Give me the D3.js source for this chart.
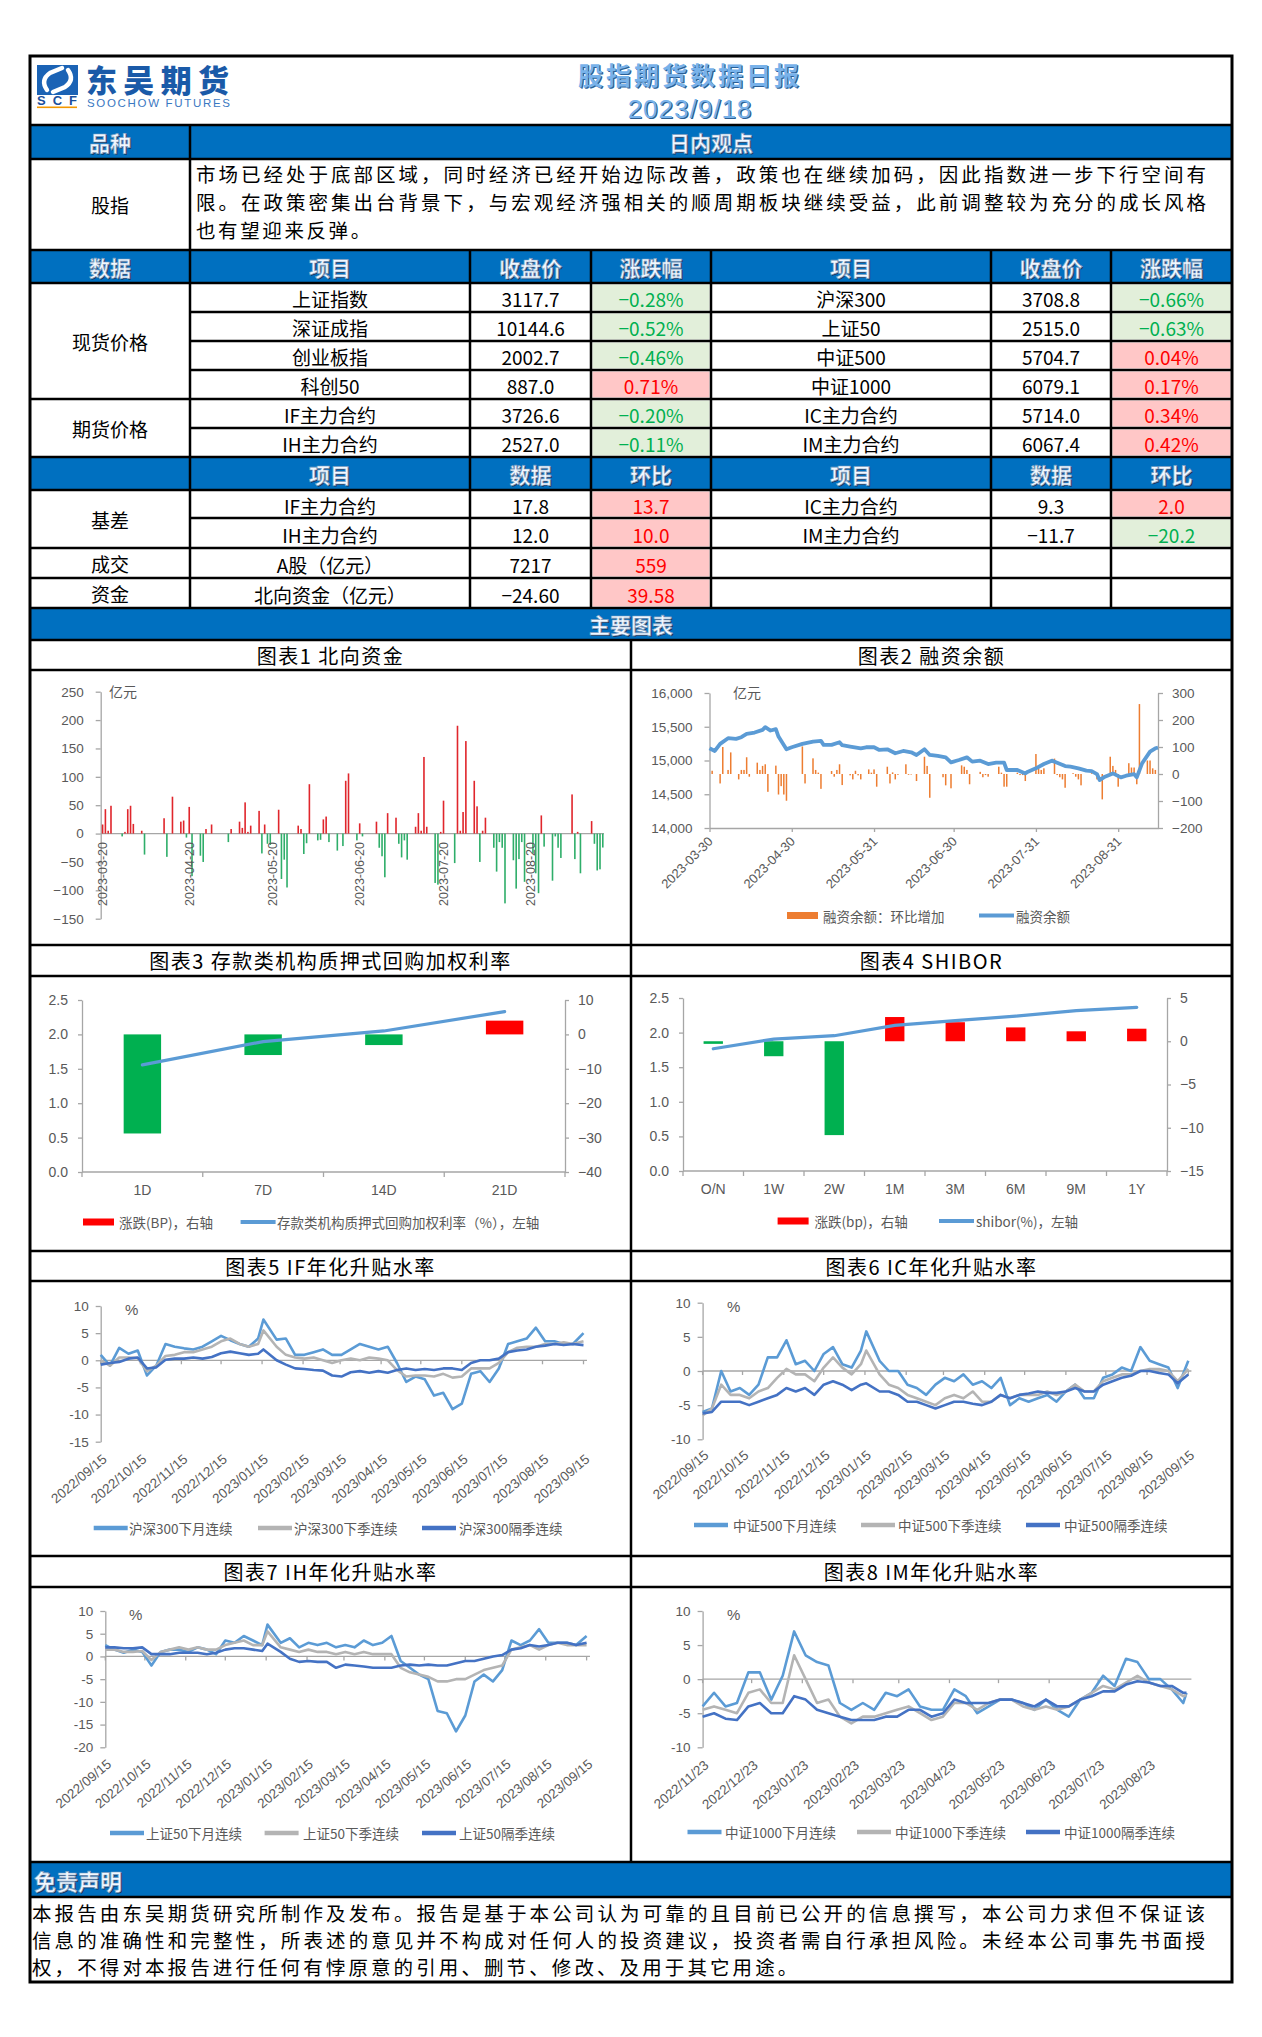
<!DOCTYPE html>
<html lang="zh-CN">
<head>
<meta charset="UTF-8">
<title>股指期货数据日报 2023/9/18</title>
<script src="https://d3js.org/d3.v7.min.js"></script>
<style>
  body { margin: 0; background: #fff; }
  svg { display: block; }
</style>
</head>
<body>
<svg id="page" width="1262" height="2037"></svg>
<script>
// ---------------- report text ----------------
const reportTitle = "股指期货数据日报";
const reportDate = "2023/9/18";
const viewLines = [
  "市场已经处于底部区域，同时经济已经开始边际改善，政策也在继续加码，因此指数进一步下行空间有",
  "限。在政策密集出台背景下，与宏观经济强相关的顺周期板块继续受益，此前调整较为充分的成长风格",
  "也有望迎来反弹。"
];
const disclaimerLines = [
  "本报告由东吴期货研究所制作及发布。报告是基于本公司认为可靠的且目前已公开的信息撰写，本公司力求但不保证该",
  "信息的准确性和完整性，所表述的意见并不构成对任何人的投资建议，投资者需自行承担风险。未经本公司事先书面授",
  "权，不得对本报告进行任何有悖原意的引用、删节、修改、及用于其它用途。"
];

// ---------------- table data ----------------
const head1 = ["数据", "项目", "收盘价", "涨跌幅", "项目", "收盘价", "涨跌幅"];
const head2 = ["", "项目", "数据", "环比", "项目", "数据", "环比"];
const spotNamesL = ["上证指数", "深证成指", "创业板指", "科创50"];
const spotCloseL = [3117.7, 10144.6, 2002.7, 887.0];
const spotChgL = [-0.28, -0.52, -0.46, 0.71];
const spotNamesR = ["沪深300", "上证50", "中证500", "中证1000"];
const spotCloseR = [3708.8, 2515.0, 5704.7, 6079.1];
const spotChgR = [-0.66, -0.63, 0.04, 0.17];
const futNamesL = ["IF主力合约", "IH主力合约"];
const futCloseL = [3726.6, 2527.0];
const futChgL = [-0.20, -0.11];
const futNamesR = ["IC主力合约", "IM主力合约"];
const futCloseR = [5714.0, 6067.4];
const futChgR = [0.34, 0.42];
const basisNamesL = ["IF主力合约", "IH主力合约"];
const basisValL = [17.8, 12.0];
const basisChgL = [13.7, 10.0];
const basisNamesR = ["IC主力合约", "IM主力合约"];
const basisValR = [9.3, -11.7];
const basisChgR = [2.0, -20.2];
const turnoverRow = ["A股（亿元）", 7217, 559];
const northRow = ["北向资金（亿元）", -24.60, 39.58];

// ---------------- chart 1: northbound flow (亿元) ----------------
const northFlow = [
  ["2023-03-20",16],["2023-03-21",43],["2023-03-22",5],["2023-03-23",49],["2023-03-27",-5],["2023-03-28",3],
  ["2023-03-29",43],["2023-03-30",49],["2023-03-31",17],["2023-04-03",5],["2023-04-04",-37],["2023-04-11",27],
  ["2023-04-12",-41],["2023-04-14",65],["2023-04-17",21],["2023-04-18",23],["2023-04-19",-7],["2023-04-20",47],
  ["2023-04-21",-75],["2023-04-24",-39],["2023-04-25",-50],["2023-04-26",8],["2023-04-28",16],["2023-05-04",-15],
  ["2023-05-05",8],["2023-05-08",21],["2023-05-09",10],["2023-05-10",55],["2023-05-11",3],["2023-05-12",14],
  ["2023-05-15",40],["2023-05-16",-35],["2023-05-17",16],["2023-05-18",-18],["2023-05-19",-20],["2023-05-22",42],
  ["2023-05-23",-80],["2023-05-24",-46],["2023-05-25",-95],["2023-05-29",14],["2023-05-30",8],["2023-05-31",-36],
  ["2023-06-01",-17],["2023-06-02",87],["2023-06-05",-12],["2023-06-06",-11],["2023-06-07",25],["2023-06-08",30],
  ["2023-06-09",-15],["2023-06-12",-30],["2023-06-14",-22],["2023-06-15",93],["2023-06-16",106],["2023-06-19",-12],
  ["2023-06-20",18],["2023-06-21",-5],["2023-06-26",21],["2023-06-27",-25],["2023-06-28",-40],["2023-06-29",-77],
  ["2023-06-30",36],["2023-07-03",28],["2023-07-04",-18],["2023-07-05",-42],["2023-07-06",-12],["2023-07-07",-46],
  ["2023-07-10",12],["2023-07-11",36],["2023-07-12",5],["2023-07-13",135],["2023-07-14",12],["2023-07-17",-87],
  ["2023-07-18",-90],["2023-07-19",3],["2023-07-20",58],["2023-07-24",-52],["2023-07-25",190],["2023-07-26",5],
  ["2023-07-27",38],["2023-07-28",163],["2023-07-31",93],["2023-08-01",48],["2023-08-02",-50],["2023-08-03",5],
  ["2023-08-04",28],["2023-08-07",-25],["2023-08-08",-67],["2023-08-09",-15],["2023-08-10",-25],["2023-08-11",-123],
  ["2023-08-14",-47],["2023-08-15",-97],["2023-08-16",-45],["2023-08-17",-15],["2023-08-18",-85],["2023-08-21",-35],
  ["2023-08-22",-70],["2023-08-23",-105],["2023-08-24",32],["2023-08-25",-23],["2023-08-28",-83],["2023-08-29",-5],
  ["2023-08-30",-25],["2023-08-31",-43],["2023-09-04",69],["2023-09-05",-45],["2023-09-06",3],["2023-09-07",-70],
  ["2023-09-11",22],["2023-09-12",-18],["2023-09-13",-65],["2023-09-14",-63],["2023-09-15",-24.6]
];
const northTicks = ["2023-03-20", "2023-04-20", "2023-05-20", "2023-06-20", "2023-07-20", "2023-08-20"];

// ---------------- chart 2: margin balance ----------------
const marginBalance = [
  ["2023-03-30",15181],["2023-04-01",15141],["2023-04-03",15246],["2023-04-06",15330],["2023-04-09",15320],
  ["2023-04-11",15345],["2023-04-13",15395],["2023-04-16",15414],["2023-04-19",15454],["2023-04-20",15494],
  ["2023-04-22",15444],["2023-04-24",15464],["2023-04-25",15355],["2023-04-28",15166],["2023-04-30",15196],
  ["2023-05-04",15246],["2023-05-08",15280],["2023-05-11",15290],["2023-05-12",15231],["2023-05-15",15231],
  ["2023-05-18",15270],["2023-05-19",15226],["2023-05-22",15206],["2023-05-26",15181],["2023-05-28",15196],
  ["2023-05-31",15196],["2023-06-02",15156],["2023-06-05",15166],["2023-06-08",15107],["2023-06-11",15141],
  ["2023-06-14",15122],["2023-06-16",15082],["2023-06-19",15166],["2023-06-21",15082],["2023-06-24",15067],
  ["2023-06-27",15047],["2023-06-29",14973],["2023-07-02",15007],["2023-07-05",15047],["2023-07-07",14983],
  ["2023-07-10",14998],["2023-07-13",14948],["2023-07-16",14968],["2023-07-19",14968],["2023-07-20",14859],
  ["2023-07-24",14859],["2023-07-27",14809],["2023-07-28",14834],["2023-07-31",14884],["2023-08-03",14948],
  ["2023-08-06",14998],["2023-08-08",14968],["2023-08-11",14918],["2023-08-13",14908],["2023-08-16",14884],
  ["2023-08-19",14849],["2023-08-21",14844],["2023-08-23",14799],["2023-08-24",14710],["2023-08-26",14760],
  ["2023-08-29",14809],["2023-09-01",14750],["2023-09-03",14775],["2023-09-06",14799],["2023-09-07",14750],
  ["2023-09-09",14958],["2023-09-12",15131],["2023-09-14",15181],["2023-09-15",15191]
];
const marginChange = [
  ["2023-03-31",12],["2023-04-03",-35],["2023-04-04",100],["2023-04-06",15],["2023-04-07",80],["2023-04-10",-20],
  ["2023-04-11",15],["2023-04-12",15],["2023-04-13",62],["2023-04-14",-10],["2023-04-17",42],["2023-04-18",15],
  ["2023-04-19",30],["2023-04-20",36],["2023-04-21",-66],["2023-04-24",31],["2023-04-25",-76],["2023-04-26",-45],
  ["2023-04-27",-76],["2023-04-28",-99],["2023-05-04",102],["2023-05-05",-35],["2023-05-08",58],["2023-05-09",15],
  ["2023-05-10",5],["2023-05-11",-55],["2023-05-15",11],["2023-05-16",-10],["2023-05-17",15],["2023-05-18",36],
  ["2023-05-19",-41],["2023-05-22",-5],["2023-05-23",-20],["2023-05-24",12],["2023-05-25",-5],["2023-05-26",-20],
  ["2023-05-29",17],["2023-05-30",5],["2023-05-31",17],["2023-06-01",-47],["2023-06-05",27],["2023-06-06",-35],
  ["2023-06-07",6],["2023-06-08",-20],["2023-06-09",-3],["2023-06-12",36],["2023-06-13",-3],["2023-06-14",-2],
  ["2023-06-16",-26],["2023-06-19",64],["2023-06-20",30],["2023-06-21",-88],["2023-06-26",-12],["2023-06-27",-42],
  ["2023-06-29",-53],["2023-07-03",32],["2023-07-04",27],["2023-07-05",15],["2023-07-06",-38],["2023-07-10",8],
  ["2023-07-11",-12],["2023-07-12",-4],["2023-07-13",-10],["2023-07-17",27],["2023-07-18",5],["2023-07-19",-47],
  ["2023-07-20",-47],["2023-07-24",5],["2023-07-25",-4],["2023-07-26",-4],["2023-07-27",-26],["2023-07-31",74],
  ["2023-08-01",21],["2023-08-02",15],["2023-08-03",21],["2023-08-07",57],["2023-08-08",-4],["2023-08-09",-12],
  ["2023-08-10",-20],["2023-08-11",-51],["2023-08-14",3],["2023-08-15",-10],["2023-08-16",-20],["2023-08-17",-42],
  ["2023-08-21",3],["2023-08-23",-20],["2023-08-25",-94],["2023-08-28",64],["2023-08-29",30],["2023-08-30",15],
  ["2023-08-31",-47],["2023-09-04",40],["2023-09-05",24],["2023-09-06",24],["2023-09-07",-38],["2023-09-08",259],
  ["2023-09-11",50],["2023-09-12",50],["2023-09-13",21],["2023-09-14",15]
];
const marginTicks = ["2023-03-30", "2023-04-30", "2023-05-31", "2023-06-30", "2023-07-31", "2023-08-31"];

// ---------------- chart 3: deposit-institution repo ----------------
const repoTerms = ["1D", "7D", "14D", "21D"];
const repoRate = [1.557, 1.896, 2.05, 2.331];
const repoChg = [-28.8, -6.0, -3.1, 4.0];

// ---------------- chart 4: SHIBOR ----------------
const shiborTerms = ["O/N", "1W", "2W", "1M", "3M", "6M", "9M", "1Y"];
const shiborRate = [1.766, 1.906, 1.955, 2.104, 2.172, 2.239, 2.317, 2.365];
const shiborChg = [-0.3, -1.73, -10.85, 2.8, 2.2, 1.6, 1.15, 1.45];

// ---------------- charts 5-7: weekly readings 2022/09/15 - 2023/09/15 ----------------
const weekDates = [
  "2022-09-15","2022-09-22","2022-09-29","2022-10-06","2022-10-13","2022-10-20","2022-10-27","2022-11-03",
  "2022-11-10","2022-11-17","2022-11-24","2022-12-01","2022-12-08","2022-12-15","2022-12-22","2022-12-29",
  "2023-01-05","2023-01-12","2023-01-16","2023-01-26","2023-02-02","2023-02-09","2023-02-16","2023-02-23",
  "2023-03-02","2023-03-09","2023-03-16","2023-03-23","2023-03-30","2023-04-06","2023-04-13","2023-04-20",
  "2023-04-27","2023-05-04","2023-05-11","2023-05-18","2023-05-25","2023-06-01","2023-06-08","2023-06-15",
  "2023-06-22","2023-06-29","2023-07-06","2023-07-13","2023-07-20","2023-07-27","2023-08-03","2023-08-10",
  "2023-08-17","2023-08-24","2023-08-31","2023-09-07","2023-09-15"
];
const ifNext = [1.0,-1.0,2.3,1.2,1.8,-2.8,-1.0,3.0,2.5,2.2,2.0,2.5,3.5,4.5,3.7,3.0,2.5,4.0,7.5,3.8,4.0,1.0,1.0,1.5,2.0,1.0,1.0,2.0,3.0,2.5,2.0,2.5,-0.5,-4.0,-3.0,-3.5,-6.5,-6.0,-9.0,-8.0,-2.5,-2.0,-4.0,-1.5,3.0,3.5,4.0,6.0,3.5,3.5,3.0,3.0,5.0];
const ifQuarter = [0,-1.0,0.5,0.5,0.4,-2.0,-1.0,0.8,1.0,1.5,1.5,2.0,2.5,3.5,4.0,3.0,2.5,3.0,5.5,2.5,1.0,0.5,0.3,0.5,0,-0.5,0,0.3,0,0.5,0.3,0,-1.8,-3.0,-2.8,-2.8,-3.0,-2.5,-3.2,-3.0,-1.5,-1.5,-1.5,-0.5,1.5,2.3,2.5,2.5,3.0,3.0,3.3,3.0,3.5];
const ifFar = [-0.8,-0.5,-0.3,0.3,0.5,-1.5,-1.3,0.1,0.3,0.3,0.5,0.3,0.6,1.3,1.6,1.3,1.0,1.2,2.0,0,-0.8,-1.5,-1.6,-1.8,-1.9,-2.8,-3.0,-2.2,-2.0,-2.3,-2.0,-2.3,-1.8,-1.5,-1.8,-1.6,-1.8,-1.5,-1.5,-1.8,-0.5,0,0,0.3,1.5,1.8,2.0,2.5,2.7,3.0,2.8,3.0,2.8];
const icNext = [-6.0,-5.5,0,-3.0,-2.5,-3.5,-2.0,2.0,2.0,4.5,1.0,1.5,0,2.5,3.5,1.0,0.5,3.0,5.8,1.5,0,0,-2.0,-2.5,-3.5,-2.0,-1.0,-1.5,-0.5,-2.0,-1.5,-2.5,-1.0,-5.0,-4.0,-4.5,-4.0,-3.5,-4.5,-3.0,-2.0,-4.0,-4.0,-1.0,-0.5,0.5,0,3.5,1.5,1.0,0.5,-2.5,1.5];
const icQuarter = [-6.5,-5.5,-2.0,-3.5,-3.5,-4.0,-3.0,-2.5,-1.0,0.3,-0.5,-0.5,-1.5,0.5,2.0,0.5,-0.5,1.0,3.0,-0.5,-2.0,-2.5,-3.5,-4.0,-4.5,-5.0,-4.0,-3.5,-4.0,-3.0,-4.5,-4.5,-3.5,-4.0,-3.5,-3.5,-3.5,-3.0,-3.5,-3.0,-2.0,-3.0,-3.0,-1.5,-1.0,-0.5,-0.5,0,0.3,0.3,0,-1.5,0.3];
const icFar = [-6.2,-6.0,-4.5,-4.5,-4.5,-5.0,-4.5,-4.0,-3.5,-2.5,-3.0,-2.5,-3.5,-2.0,-1.5,-2.0,-2.8,-2.0,-1.8,-3.0,-3.0,-3.5,-4.5,-4.5,-5.0,-5.5,-5.0,-4.5,-4.5,-4.8,-5.0,-4.5,-3.5,-4.0,-3.5,-3.3,-3.0,-3.2,-3.2,-3.0,-2.5,-3.0,-3.0,-2.0,-1.5,-1.0,-0.7,0,0,-0.3,-0.5,-1.8,-0.5];
const ihNext = [2.5,1.5,0.8,1.5,1.0,-2.0,1.0,1.5,1.5,1.0,2.0,1.5,0.5,3.5,3.0,4.5,3.5,2.5,7.0,3.0,4.0,2.0,3.0,2.5,3.0,2.0,2.5,2.0,3.5,2.5,3.0,4.5,-1.0,-2.5,-4.0,-5.0,-12.0,-12.5,-16.5,-13.0,-5.5,-4.0,-5.5,-3.0,3.5,2.5,3.5,6.0,3.0,3.0,3.0,2.5,4.5];
const ihQuarter = [1.5,1.5,1.0,1.0,1.2,-0.8,1.0,1.5,2.0,1.5,2.0,1.5,1.5,2.5,3.0,3.5,2.5,2.5,5.5,2.0,1.5,1.0,1.5,1.0,1.0,0.5,1.0,0.5,1.0,0.5,0.5,0.5,-2.5,-3.5,-4.0,-4.5,-5.5,-5.5,-5.0,-5.0,-4.0,-3.0,-2.5,-2.0,1.5,2.0,2.5,1.5,2.5,3.0,2.5,2.5,2.5];
const ihFar = [2.0,2.0,1.8,1.8,2.0,0.5,0.5,0.5,0.8,0.8,0.8,0.5,0.8,1.5,1.8,1.8,1.5,1.2,2.8,1.0,-0.5,-1.2,-1.0,-1.2,-1.2,-2.5,-1.8,-2.0,-2.2,-2.5,-2.5,-2.5,-2.0,-1.8,-2.0,-1.8,-2.0,-2.0,-1.5,-1.0,-1.0,-0.5,0,0.3,1.5,1.8,2.5,2.2,2.5,3.0,3.0,2.5,3.0];
const monthTicks15 = ["2022-09-15","2022-10-15","2022-11-15","2022-12-15","2023-01-15","2023-02-15","2023-03-15",
  "2023-04-15","2023-05-15","2023-06-15","2023-07-15","2023-08-15","2023-09-15"];

// ---------------- chart 8: IM weekly readings ----------------
const imDates = [
  "2022-11-23","2022-11-30","2022-12-07","2022-12-14","2022-12-21","2022-12-28","2023-01-04","2023-01-11",
  "2023-01-18","2023-01-25","2023-02-01","2023-02-08","2023-02-15","2023-02-22","2023-03-01","2023-03-08",
  "2023-03-15","2023-03-22","2023-03-29","2023-04-05","2023-04-12","2023-04-19","2023-04-26","2023-05-03",
  "2023-05-10","2023-05-17","2023-05-24","2023-05-31","2023-06-07","2023-06-14","2023-06-21","2023-06-28",
  "2023-07-05","2023-07-12","2023-07-19","2023-07-26","2023-08-02","2023-08-09","2023-08-16","2023-08-23",
  "2023-08-30","2023-09-06","2023-09-13","2023-09-15"
];
const imNext = [-4,-2,-4,-3.5,1.0,1.0,-3.0,0.5,7.0,3.5,2.5,2.0,-3.5,-4.5,-3.5,-4.5,-2.0,-2.5,-1.5,-4.0,-4.5,-4.5,-1.5,-2.5,-5.0,-4.0,-3.0,-3.0,-3.5,-4.5,-3.0,-4.5,-5.5,-3.0,-2.0,0.5,-1.0,3.0,2.5,0,0,-1.5,-3.5,-2.0];
const imQuarter = [-4.5,-4,-4.5,-5,-2,-1.5,-3.5,-3.5,3.5,0,-3.5,-3,-5.5,-6.5,-5.5,-5.5,-5,-4.5,-4,-5,-6,-5.5,-3.5,-3.5,-4.5,-3.5,-3,-3,-4,-4.5,-4,-4.5,-4,-3,-2,-1,-1.5,-0.5,0.5,-0.5,-1,-1.5,-2.5,-2.3];
const imFar = [-5.5,-5,-5.8,-6,-4,-3.5,-5,-5,-2.5,-3,-4.5,-5,-5.5,-6,-6,-6,-5.5,-5.5,-4.5,-4.5,-5.5,-5,-3,-3.5,-3.5,-3.5,-3,-3,-3.5,-4,-3,-4,-4,-3,-2.5,-1.8,-1.8,-0.8,-0.3,-0.5,-1,-1,-2,-2];
const monthTicks23 = ["2022-11-23","2022-12-23","2023-01-23","2023-02-23","2023-03-23","2023-04-23","2023-05-23",
  "2023-06-23","2023-07-23","2023-08-23"];

// ---------------- styling ----------------
const CJK = '"Noto Sans CJK SC", "Noto Sans", sans-serif';
const LAT = '"Liberation Sans", Arial, sans-serif';
const GRAY = "#595959", AXIS = "#a6a6a6", BAND = "#0070c0";
const UP_BG = "#ffc7c7", UP_FG = "#ff0000", DN_BG = "#e2efda", DN_FG = "#00b050";
const C_NEXT = "#5b9bd5", C_QTR = "#b4b4b4", C_FAR = "#4472c4";

const svg = d3.select("#page");
const parse = d3.timeParse("%Y-%m-%d");

const L = 30, R = 1232, MID = 631;
const colX = [30, 190, 470, 591, 711, 991, 1111, 1232];
const colC = colX.slice(0, -1).map((x, i) => (x + colX[i + 1]) / 2);

function txt(g, x, y, str, o = {}) {
  return g.append("text").attr("x", x).attr("y", y)
    .attr("font-family", o.family || CJK).attr("font-size", o.size || 14)
    .attr("font-weight", o.weight || 400)
    .attr("fill", o.fill || GRAY).attr("text-anchor", o.anchor || "start")
    .attr("dominant-baseline", "central").text(str);
}

// white text with a dark bevel, as in the blue header bands
function emboss(x, y, str, size, anchor = "middle") {
  const g = svg.append("g").attr("font-family", CJK).attr("font-size", size)
    .attr("font-weight", 700).attr("text-anchor", anchor).attr("dominant-baseline", "central");
  g.append("text").attr("x", x + 1.3).attr("y", y + 1.3).attr("fill", "#17365d").text(str);
  g.append("text").attr("x", x).attr("y", y).attr("fill", "#f2f8ff")
    .attr("stroke", "#7b9cc0").attr("stroke-width", 0.7).text(str);
}

function styleAxis(sel, size, family) {
  sel.attr("font-size", null).attr("font-family", null);
  sel.select(".domain").attr("stroke", AXIS).attr("stroke-width", 1.3);
  sel.selectAll(".tick line").attr("stroke", AXIS).attr("stroke-width", 1.3);
  sel.selectAll(".tick text").attr("fill", GRAY).attr("font-size", size).attr("font-family", family || LAT);
}

function hline(g, x1, x2, y, color, w) {
  g.append("line").attr("x1", x1).attr("x2", x2).attr("y1", y).attr("y2", y)
    .attr("stroke", color).attr("stroke-width", w);
}

// ================= header =================
const head = svg.append("g");
// logo
head.append("rect").attr("x", 37).attr("y", 65).attr("width", 41).attr("height", 30).attr("fill", "#1b63b5");
head.append("path").attr("d", "M47 90 Q40 80 50 73 L62 68").attr("fill", "none")
  .attr("stroke", "#fff").attr("stroke-width", 4.5).attr("stroke-linecap", "round");
head.append("path").attr("d", "M68 70 Q75 80 65 87 L53 92").attr("fill", "none")
  .attr("stroke", "#fff").attr("stroke-width", 4.5).attr("stroke-linecap", "round");
head.append("text").attr("x", 37).attr("y", 104.5).attr("font-family", LAT).attr("font-size", 13)
  .attr("font-weight", 900).attr("fill", "#1a4f9c").attr("textLength", 40).text("SCF");
head.append("rect").attr("x", 37).attr("y", 106.5).attr("width", 40).attr("height", 1.6).attr("fill", "#f39800");
head.append("text").attr("x", 86).attr("y", 92).attr("font-family", CJK).attr("font-size", 31)
  .attr("font-weight", 900).attr("fill", "#1a5aa8").attr("textLength", 143).text("东吴期货");
head.append("text").attr("x", 87).attr("y", 107).attr("font-family", LAT).attr("font-size", 11.5)
  .attr("fill", "#3a78c2").attr("textLength", 143).text("SOOCHOW FUTURES");
// title
[[reportTitle, 73.5, 25, 3], [reportDate, 108.5, 26, 1]].forEach(([s, y, size, ls]) => {
  const fam = s === reportDate ? LAT : CJK;
  const w = s === reportDate ? 400 : 700;
  head.append("text").attr("x", 691.2).attr("y", y + 1.2).attr("text-anchor", "middle")
    .attr("dominant-baseline", "central").attr("font-family", fam).attr("font-size", size)
    .attr("font-weight", w).attr("letter-spacing", ls).attr("fill", "#2b5f95").text(s);
  head.append("text").attr("x", 690).attr("y", y).attr("text-anchor", "middle")
    .attr("dominant-baseline", "central").attr("font-family", fam).attr("font-size", size)
    .attr("font-weight", w).attr("letter-spacing", ls).attr("fill", "#78b2ea").text(s);
});

// ================= bands & cell fills =================
const fills = svg.append("g");
[[125, 159], [250, 283], [457, 490], [608, 640], [1863, 1897]].forEach(([a, b]) => {
  fills.append("rect").attr("x", L).attr("y", a).attr("width", R - L).attr("height", b - a).attr("fill", BAND);
});

function fmtPct(v) { return (v < 0 ? "−" : "") + Math.abs(v).toFixed(2) + "%"; }
function fmtNum(d) { return v => (v < 0 ? "−" : "") + Math.abs(v).toFixed(d); }

const cellText = svg.append("g");
function valueCell(col, y0, y1, str, sign) {
  if (sign !== 0) {
    fills.append("rect").attr("x", colX[col] + 1.5).attr("y", y0 + 1.5)
      .attr("width", colX[col + 1] - colX[col] - 3).attr("height", y1 - y0 - 3)
      .attr("fill", sign > 0 ? UP_BG : DN_BG);
  }
  txt(cellText, colC[col], (y0 + y1) / 2 + 1, str, {
    size: 19, fill: sign > 0 ? UP_FG : sign < 0 ? DN_FG : "#000", family: CJK, anchor: "middle"
  });
}
function plainCell(col, y0, y1, str) {
  txt(cellText, colC[col], (y0 + y1) / 2 + 1, str, { size: 19, fill: "#000", anchor: "middle" });
}
function rowOf(y0, y1, nL, vL, cL, nR, vR, cR, fv, fc) {
  plainCell(1, y0, y1, nL); plainCell(2, y0, y1, fv(vL));
  valueCell(3, y0, y1, fc(cL), Math.sign(cL));
  if (nR !== null) {
    plainCell(4, y0, y1, nR); plainCell(5, y0, y1, fv(vR));
    valueCell(6, y0, y1, fc(cR), Math.sign(cR));
  }
}
const spotY = [283, 312, 341, 370, 399];
spotNamesL.forEach((n, i) => rowOf(spotY[i], spotY[i + 1], n, spotCloseL[i], spotChgL[i],
  spotNamesR[i], spotCloseR[i], spotChgR[i], fmtNum(1), fmtPct));
const futY = [399, 428, 457];
futNamesL.forEach((n, i) => rowOf(futY[i], futY[i + 1], n, futCloseL[i], futChgL[i],
  futNamesR[i], futCloseR[i], futChgR[i], fmtNum(1), fmtPct));
const basisY = [490, 518, 548];
basisNamesL.forEach((n, i) => rowOf(basisY[i], basisY[i + 1], n, basisValL[i], basisChgL[i],
  basisNamesR[i], basisValR[i], basisChgR[i], fmtNum(1), fmtNum(1)));
rowOf(548, 578, turnoverRow[0], turnoverRow[1], turnoverRow[2], null, 0, 0, fmtNum(0), fmtNum(0));
rowOf(578, 608, northRow[0], northRow[1], northRow[2], null, 0, 0, fmtNum(2), fmtNum(2));

// left column labels
[["股指", 204.5], ["现货价格", 341], ["期货价格", 428], ["基差", 519], ["成交", 563], ["资金", 593]]
  .forEach(([s, y]) => txt(cellText, colC[0], y, s, { size: 19, fill: "#000", anchor: "middle" }));

// view text
viewLines.forEach((s, i) => {
  const t = txt(svg, 196, 173.5 + i * 28.2, s, { size: 19.5, fill: "#000" });
  if (i < 2) t.attr("textLength", 1010).attr("lengthAdjust", "spacing");
  else t.attr("letter-spacing", 2.6);
});
// disclaimer
disclaimerLines.forEach((s, i) => {
  const t = txt(svg, 32, 1912 + i * 27.3, s, { size: 19.5, fill: "#000" });
  if (i < 2) t.attr("textLength", 1173).attr("lengthAdjust", "spacing");
  else t.attr("letter-spacing", 3.1);
});

// band headings
emboss(colC[0], 142, "品种", 21);
emboss((190 + R) / 2, 142, "日内观点", 21);
head1.forEach((s, i) => emboss(colC[i], 266.5, s, 21));
head2.forEach((s, i) => { if (s) emboss(colC[i], 473.5, s, 21); });
emboss(MID, 624, "主要图表", 21);
emboss(34, 1880, "免责声明", 22, "start");

// ================= grid lines =================
const grid = svg.append("g").attr("stroke", "#000").attr("stroke-width", 2.5);
[125, 159, 250, 283, 399, 457, 490, 548, 578, 608, 640, 670, 945, 976, 1251, 1281, 1556, 1587, 1862, 1897]
  .forEach(y => grid.append("line").attr("x1", L).attr("x2", R).attr("y1", y).attr("y2", y));
[312, 341, 370, 428, 518].forEach(y => grid.append("line").attr("x1", 190).attr("x2", R).attr("y1", y).attr("y2", y));
grid.append("line").attr("x1", 190).attr("x2", 190).attr("y1", 125).attr("y2", 608);
[470, 591, 711, 991, 1111].forEach(x => grid.append("line").attr("x1", x).attr("x2", x).attr("y1", 250).attr("y2", 608));
grid.append("line").attr("x1", MID).attr("x2", MID).attr("y1", 640).attr("y2", 1862);
grid.append("rect").attr("x", L).attr("y", 56).attr("width", R - L).attr("height", 1982 - 56)
  .attr("fill", "none").attr("stroke-width", 3);

// panel titles
[["图表1 北向资金", 655.5], ["图表3 存款类机构质押式回购加权利率", 960.5], ["图表5 IF年化升贴水率", 1266], ["图表7 IH年化升贴水率", 1571.5]]
  .forEach(([s, y]) => txt(svg, (L + MID) / 2, y, s, { size: 20, fill: "#000", anchor: "middle" }).attr("letter-spacing", 1.5));
[["图表2 融资余额", 655.5], ["图表4 SHIBOR", 960.5], ["图表6 IC年化升贴水率", 1266], ["图表8 IM年化升贴水率", 1571.5]]
  .forEach(([s, y]) => txt(svg, (MID + R) / 2, y, s, { size: 20, fill: "#000", anchor: "middle" }).attr("letter-spacing", 1.5));

// ================= chart 1 =================
{
  const g = svg.append("g");
  const x = d3.scaleTime().domain([parse("2023-03-20"), parse("2023-09-15")]).range([102.6, 602.8]);
  const y = d3.scaleLinear().domain([-150, 250]).range([918.7, 691.7]);
  g.append("g").attr("transform", "translate(100.7,0)")
    .call(d3.axisLeft(y).tickValues(d3.range(-150, 251, 50)).tickSize(5).tickSizeOuter(0).tickPadding(12))
    .call(styleAxis, 13.5);
  hline(g, 100.7, 604, y(0), AXIS, 1.3);
  g.selectAll("rect.bar").data(northFlow).join("rect").attr("class", "bar")
    .attr("x", d => x(parse(d[0])) - 0.8).attr("width", 1.6)
    .attr("y", d => Math.min(y(d[1]), y(0))).attr("height", d => Math.abs(y(d[1]) - y(0)))
    .attr("fill", d => d[1] >= 0 ? "#e0262c" : "#2fae6a");
  northTicks.forEach(d => {
    const px = x(parse(d));
    g.append("text").attr("x", px).attr("y", 842).attr("transform", `rotate(-90,${px},842)`)
      .attr("text-anchor", "end").attr("dy", "0.35em").attr("font-family", LAT).attr("font-size", 12.5)
      .attr("fill", GRAY).text(d);
  });
  txt(g, 109, 691, "亿元", { size: 14 });
}

// ================= chart 2 =================
{
  const g = svg.append("g");
  const x = d3.scaleTime().domain([parse("2023-03-30"), parse("2023-09-15")]).range([709.5, 1158]);
  const yL = d3.scaleLinear().domain([14000, 16000]).range([828, 693]);
  const yR = d3.scaleLinear().domain([-200, 300]).range([828, 693]);
  g.append("g").attr("transform", "translate(709.5,0)")
    .call(d3.axisLeft(yL).tickValues(d3.range(14000, 16001, 500)).tickFormat(d3.format(",")).tickSize(5).tickSizeOuter(0).tickPadding(12))
    .call(styleAxis, 13.5);
  g.append("g").attr("transform", "translate(1158,0)")
    .call(d3.axisRight(yR).tickValues(d3.range(-200, 301, 100)).tickSize(5).tickSizeOuter(0).tickPadding(9))
    .call(styleAxis, 13.5);
  g.append("g").attr("transform", "translate(0,828)")
    .call(d3.axisBottom(x).tickValues(marginTicks.map(parse)).tickSize(4).tickSizeOuter(0).tickFormat(""))
    .call(styleAxis, 13);
  g.selectAll("rect.bar").data(marginChange).join("rect").attr("class", "bar")
    .attr("x", d => x(parse(d[0])) - 0.75).attr("width", 1.5)
    .attr("y", d => Math.min(yR(d[1]), yR(0))).attr("height", d => Math.abs(yR(d[1]) - yR(0)))
    .attr("fill", "#ed7d31");
  g.append("path").datum(marginBalance)
    .attr("d", d3.line().x(d => x(parse(d[0]))).y(d => yL(d[1])))
    .attr("fill", "none").attr("stroke", C_NEXT).attr("stroke-width", 3.8).attr("stroke-linejoin", "round");
  marginTicks.forEach(d => {
    const px = x(parse(d)) + 1;
    g.append("text").attr("x", px).attr("y", 839).attr("transform", `rotate(-45,${px},839)`)
      .attr("text-anchor", "end").attr("dy", "0.35em").attr("font-family", LAT).attr("font-size", 13)
      .attr("fill", GRAY).text(d);
  });
  txt(g, 733, 692, "亿元", { size: 14 });
  g.append("rect").attr("x", 787).attr("y", 912).attr("width", 31).attr("height", 7).attr("fill", "#ed7d31");
  txt(g, 823, 915.5, "融资余额：环比增加", { size: 13.5 });
  hline(g, 979, 1014, 915.5, C_NEXT, 4);
  txt(g, 1016, 915.5, "融资余额", { size: 13.5 });
}

// ================= charts 3 & 4 (bar + line, dual axis) =================
function rateChart(o) {
  const g = svg.append("g");
  const band = d3.scaleBand().domain(o.cats).range([o.x0, o.x1]);
  const bars = d3.scaleBand().domain(o.cats).range([o.x0, o.x1]).paddingInner(o.pad).paddingOuter(o.pad / 2);
  const yL = d3.scaleLinear().domain([0, 2.5]).range([o.yb, o.yt]);
  const yR = d3.scaleLinear().domain(o.rDomain).range([o.yb, o.yt]);
  g.append("g").attr("transform", `translate(${o.x0},0)`)
    .call(d3.axisLeft(yL).tickValues(d3.range(0, 2.51, 0.5)).tickFormat(d3.format(".1f")).tickSize(4).tickSizeOuter(0).tickPadding(10))
    .call(styleAxis, 14);
  g.append("g").attr("transform", `translate(${o.x1},0)`)
    .call(d3.axisRight(yR).tickValues(d3.range(o.rDomain[0], o.rDomain[1] + 0.1, o.rStep)).tickSize(4).tickSizeOuter(0).tickPadding(9))
    .call(styleAxis, 14);
  hline(g, o.x0, o.x1, o.yb, AXIS, 1.3);
  o.cats.forEach(c => g.append("line").attr("x1", band(c)).attr("x2", band(c)).attr("y1", o.yb).attr("y2", o.yb + 5)
    .attr("stroke", AXIS).attr("stroke-width", 1.3));
  g.append("line").attr("x1", o.x1).attr("x2", o.x1).attr("y1", o.yb).attr("y2", o.yb + 5)
    .attr("stroke", AXIS).attr("stroke-width", 1.3);
  o.cats.forEach(c => txt(g, band(c) + band.bandwidth() / 2, o.yb + 18, c, { size: 14, anchor: "middle", family: LAT }));
  g.selectAll("rect.bar").data(o.chg).join("rect").attr("class", "bar")
    .attr("x", (d, i) => bars(o.cats[i])).attr("width", bars.bandwidth())
    .attr("y", d => Math.min(yR(d), yR(0))).attr("height", d => Math.abs(yR(d) - yR(0)))
    .attr("fill", d => d >= 0 ? "#ff0000" : "#00b050");
  g.append("path").datum(o.rate)
    .attr("d", d3.line().x((d, i) => band(o.cats[i]) + band.bandwidth() / 2).y(d => yL(d)))
    .attr("fill", "none").attr("stroke", C_NEXT).attr("stroke-width", 3.2).attr("stroke-linecap", "round");
  g.append("rect").attr("x", o.leg[0]).attr("y", o.legY - 3.5).attr("width", 31).attr("height", 7).attr("fill", "#ff0000");
  txt(g, o.leg[1], o.legY, o.legText[0], { size: 13.5 });
  hline(g, o.leg[2], o.leg[2] + 35, o.legY, C_NEXT, 4);
  txt(g, o.leg[3], o.legY, o.legText[1], { size: 13.5 });
}
rateChart({ cats: repoTerms, rate: repoRate, chg: repoChg, x0: 82, x1: 565, yt: 1000, yb: 1172,
  rDomain: [-40, 10], rStep: 10, pad: 0.69, legY: 1222, leg: [83, 119, 240.6, 277],
  legText: ["涨跌(BP)，右轴", "存款类机构质押式回购加权利率（%），左轴"] });
rateChart({ cats: shiborTerms, rate: shiborRate, chg: shiborChg, x0: 683, x1: 1167, yt: 998, yb: 1171,
  rDomain: [-15, 5], rStep: 5, pad: 0.68, legY: 1221, leg: [777.6, 814.5, 939, 976],
  legText: ["涨跌(bp)，右轴", "shibor(%)，左轴"] });

// ================= charts 5-8 (annualised basis) =================
function basisChart(o) {
  const g = svg.append("g");
  const x = d3.scaleTime().domain(o.xDomain.map(parse)).range([o.x0, o.x1]);
  const y = d3.scaleLinear().domain(o.yDomain).range([o.yb, o.yt]);
  g.append("g").attr("transform", `translate(${o.x0},0)`)
    .call(d3.axisLeft(y).tickValues(d3.range(o.yDomain[0], o.yDomain[1] + 0.1, 5)).tickFormat(d => String(d))
      .tickSize(5).tickSizeOuter(0).tickPadding(7))
    .call(styleAxis, 13.5);
  hline(g, o.x0, o.axisEnd, y(0), AXIS, 1.3);
  o.ticks.forEach(d => {
    const px = x(parse(d));
    g.append("line").attr("x1", px).attr("x2", px).attr("y1", y(0)).attr("y2", y(0) + 4)
      .attr("stroke", AXIS).attr("stroke-width", 1.3);
    g.append("text").attr("x", px + 4).attr("y", o.labelY).attr("transform", `rotate(-40,${px + 4},${o.labelY})`)
      .attr("text-anchor", "end").attr("dy", "0.35em").attr("font-family", LAT).attr("font-size", 13.5)
      .attr("fill", GRAY).text(d.replace(/-/g, "/"));
  });
  const line = d3.line().x((d, i) => x(parse(o.dates[i]))).y(d => y(d));
  o.series.forEach((s, k) => {
    g.append("path").datum(s.vals).attr("d", line).attr("fill", "none")
      .attr("stroke", s.color).attr("stroke-width", 2.6).attr("stroke-linejoin", "round");
    hline(g, o.leg[k][0], o.leg[k][0] + 34, o.legY, s.color, 4.5);
    txt(g, o.leg[k][1], o.legY, s.name, { size: 13.5 });
  });
  txt(g, o.pct[0], o.pct[1], "%", { size: 15, family: LAT });
}
basisChart({ xDomain: ["2022-09-15", "2023-09-15"], x0: 100.7, x1: 583.5, axisEnd: 587, yDomain: [-15, 10],
  yb: 1441.7, yt: 1306, ticks: monthTicks15, labelY: 1457, dates: weekDates, pct: [125, 1309],
  legY: 1528, leg: [[93.7, 129], [258, 294], [422, 459]],
  series: [{ vals: ifNext, color: C_NEXT, name: "沪深300下月连续" }, { vals: ifQuarter, color: C_QTR, name: "沪深300下季连续" },
    { vals: ifFar, color: C_FAR, name: "沪深300隔季连续" }] });
basisChart({ xDomain: ["2022-09-15", "2023-09-15"], x0: 702.6, x1: 1188.3, axisEnd: 1191.4, yDomain: [-10, 10],
  yb: 1439.3, yt: 1302.7, ticks: monthTicks15, labelY: 1453, dates: weekDates, pct: [727, 1306],
  legY: 1525, leg: [[694, 733], [861, 898], [1026, 1064]],
  series: [{ vals: icNext, color: C_NEXT, name: "中证500下月连续" }, { vals: icQuarter, color: C_QTR, name: "中证500下季连续" },
    { vals: icFar, color: C_FAR, name: "中证500隔季连续" }] });
basisChart({ xDomain: ["2022-09-15", "2023-09-15"], x0: 105.3, x1: 586.6, axisEnd: 590, yDomain: [-20, 10],
  yb: 1747.3, yt: 1611, ticks: monthTicks15, labelY: 1762, dates: weekDates, pct: [129, 1614],
  legY: 1833, leg: [[110, 146], [264.6, 303], [422, 459]],
  series: [{ vals: ihNext, color: C_NEXT, name: "上证50下月连续" }, { vals: ihQuarter, color: C_QTR, name: "上证50下季连续" },
    { vals: ihFar, color: C_FAR, name: "上证50隔季连续" }] });
basisChart({ xDomain: ["2022-11-23", "2023-09-18"], x0: 702.6, x1: 1191.4, axisEnd: 1191.4, yDomain: [-10, 10],
  yb: 1747.3, yt: 1611, ticks: monthTicks23, labelY: 1763, dates: imDates, pct: [727, 1614],
  legY: 1832, leg: [[687.5, 725], [857, 895], [1026, 1064]],
  series: [{ vals: imNext, color: C_NEXT, name: "中证1000下月连续" }, { vals: imQuarter, color: C_QTR, name: "中证1000下季连续" },
    { vals: imFar, color: C_FAR, name: "中证1000隔季连续" }] });
</script>
</body>
</html>
